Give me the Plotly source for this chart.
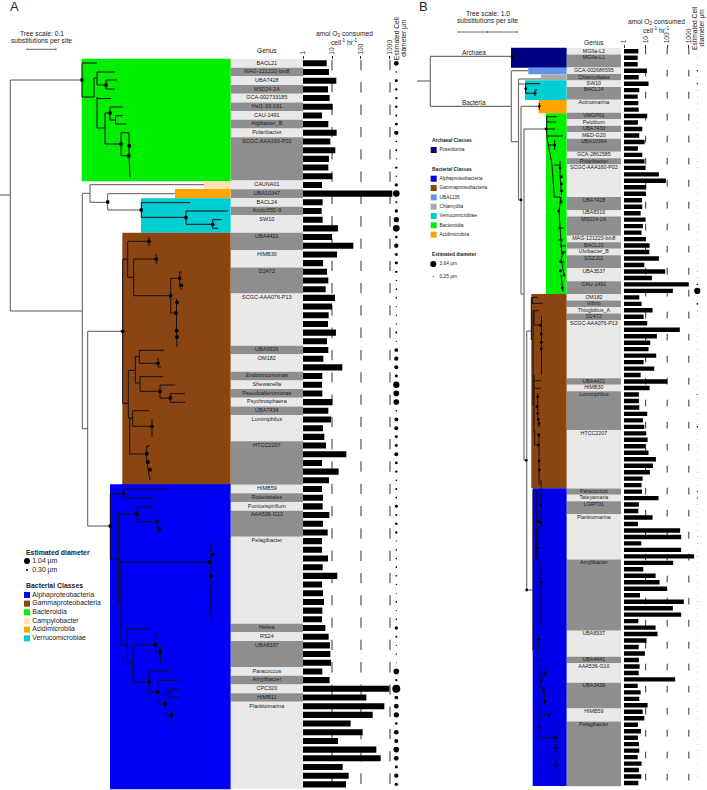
import plotly.graph_objects as go

W, H = 707, 790
FONT = "Liberation Sans"
INK = "#222222"

# ---------- Panel A data ----------
a_genus = [("BACL21",1),("MAG-121220-bin8",1),("UBA7428",1),("MS024-2A",1),("GCA-002733185",1),("Hel1-33-131",1),
           ("CAU-1491",1),("Algibacter_B",1),("Polaribacter",1),("SCGC-AAA160-P02",5),("CAUNA01",1),("UBA10347",1),
           ("BACL24",1),("Arctic95D-9",1),("SW10",2),("UBA4421",2),("HIMB30",2),("D2472",3),("SCGC-AAA076-P13",6),
           ("UBA9926",1),("OM182",2),("Endozoicomonas",1),("Shewanella",1),("Pseudoalteromonas",1),("Psychrosphaera",1),
           ("UBA7434",1),("Luminiphilus",3),("HTCC2207",5),("HIMB59",1),("Rickettsiales",1),("Puniceispirillum",1),
           ("AAA536-G10",3),("Pelagibacter",10),("Heliea",1),("RS24",1),("UBA8337",3),("Paracoccus",1),("Amylibacter",1),
           ("CPC320",1),("HIMB11",1),("Planktomarina",10)]
a_rate = [6.55,7.88,14.1,7.28,8.31,10.5,4.52,7.48,14.5,8.76,13.0,7.88,7.48,10.3,4.52,1203,4.77,4.40,4.77,16.1,10.0,54.4,14.9,
          4.89,6.72,7.48,6.05,12.7,10.0,7.67,7.28,13.7,6.72,7.48,5.03,22.7,4.64,4.52,4.64,10.3,7.48,9.24,4.89,5.44,6.21,31.2,
          4.52,17.0,7.88,4.52,4.89,4.77,8.09,
          4.89,7.09,4.52,4.52,7.28,4.77,15.3,4.52,4.89,5.30,4.64,4.52,5.89,7.67,8.53,8.76,9.24,4.64,8.31,948,153,638,253,44,
          114,16.1,338,477,23.3,37.6,30.4]
a_diam = [.88,.31,.56,.44,.44,.44,.38,.56,.81,.31,.38,.25,.44,.25,.63,1.25,.38,.63,1.0,1.25,.5,.81,.56,
          .56,.44,.25,.31,.31,.25,.25,.25,.38,.25,.69,.81,.75,.56,1.19,1.06,1.06,.31,.75,.75,.56,.56,.75,.5,.44,.31,.38,.31,.56,.38,
          .5,.44,.25,.31,.31,.31,.31,.25,.19,.31,.25,.31,.63,.38,.25,.25,.19,1.06,.44,1.5,.69,.88,1.0,.5,.88,.75,1.06,.88,.56,.81,.63]

# ---------- Panel B data ----------
b_genus = [("MGIIa-L2",1),("MGIIa-L1",2),("GCA-002686595",1),("Chlamydiales",1),("SW10",1),("BACL24",2),("Actinomarina",2),
           ("VMGP01",1),("Pelobium",1),("UBA7430",1),("MED-G20",1),("UBA10364",2),("GCA-2862585",1),("Polaribacter",1),
           ("SCGC-AAA160-P02",5),("UBA7428",2),("UBA8316",1),("MS024-2A",3),("MAG-121220-bin8",1),("BACL21",1),
           ("Ulvibacter_B",1),("SGZJ01",2),("UBA3537",2),("CAU-1491",2),("OM182",1),("Vibrio",1),("Thioglobus_A",1),
           ("D2472",1),("SCGC-AAA076-P13",9),("UBA4421",1),("HIMB30",1),("Luminiphilus",6),("HTCC2207",9),("Paracoccus",1),
           ("Tateyamaria",1),("LGRT01",2),("Planktomarina",7),("Amylibacter",11),("UBA8337",4),("UBA4441",1),("AAA536-G10",3),
           ("UBA3439",4),("HIMB59",2),("Pelagibacter",10)]
b_rate = [4.6,4.3,4.3,11.5,4.8,13.7,5.1,4.3,4.6,4.8,11.9,4.4,7.0,5.1,9.0,4.4,7.0,9.0,10,41.2,86.8,10.7,10.4,6.8,7.0,5.9,10,7.5,6.5,
          10.4,15.3,14.8,41.2,
          8.7,80.9,19.6,1000,183,5.1,6.5,21,8.1,11.9,384,33.3,16.4,13.7,31,8.1,25.1,5.9,100,15.3,4.9,4.9,5.1,11.9,7.5,8.7,10.7,
          12.4,9.7,13.7,30,21.8,15.8,7.3,6.5,6.8,39.8,4.9,4.6,21,
          4.4,398,443,6.3,443,1762,189,7.8,29,44.3,100,5.5,588,183,443,4.6,29,35.8,11.1,4.8,9.3,4.9,5.3,4.8,234,4.3,5.9,5.1,12.4,
          7.3,8.7,4.4,6.1,4.4,4.9,5.1,4.3,6.5,4.9,6.3,4.6]
b_diam = [.3,.3,.3,.9,.3,.8,.4,.3,.3,.3,.3,.3,.3,.3,.3,.3,.3,.3,.4,.3,.3,.3,.3,.3,.3,.3,.3,.3,.3,.3,.3,.3,.3,
          .3,.4,.4,.8,3.64,.3,1.0,.4,.3,.3,.4,.3,.3,.4,.3,.3,.3,.3,.3,.3,.7,.3,.3,.4,.3,.9,.3,.3,.3,.3,.4,.3,.4,.3,.3,.7,.8,.4,.3,.3,
          .4,.4,.4,.4,.3,.5,.3,.3,.3,.3,.3,.3,.4,.3,.3,.3,.3,.3,.3,.3,.3,.3,.3,.3,.3,.3,.3,.3,.3,.3,.3,.3,.3,.3,.3,.3,.3,.3,.3,.3]

# ---------- Clades: colour, left, top, bottom on the tree canvas ----------
a_clades = [("#00ee00",81.7,58.7,181.3),("#fde2b4",204,181.3,189),("#ffa500",175,189,198.3),("#00ced1",141,198.3,232.7),
            ("#8b4513",122.3,232.7,485),("#0000f5",110,484.3,789.3)]
b_clades = [("#000080",511,47.7,67.7),("#6495ed",528.3,67.7,74.3),("#a9a9a9",541,74.3,80.3),("#00ced1",525,80.3,100),
            ("#ffa500",538.7,100,113.3),("#00ee00",546,113.3,294),("#8b4513",531.3,294,488.3),("#0000e8",532.7,488.3,786)]

# ---------- Trees: branches as (x0, y0, x1, y1), nodes as (x, y) ----------
a_outer = [(0,195,10.3,195),(10.3,80,10.3,311),(10.3,80,82,80),(10.3,311,82.3,311),(82.3,193.3,82.3,428.7),
           (82.3,193.3,90,193.3),(90,184.7,90,202.3),(90,184.7,204,184.7),(90,202.3,107.7,202.3),(107.7,193.7,107.7,210),
           (107.7,193.7,175,193.7),(107.7,210,141.3,210),(82.3,428.7,87.7,428.7),(87.7,331.3,87.7,526),
           (87.7,331.3,122.7,331.3),(87.7,526,110.3,526)]
a_inner = [(82,63,82,97),(82,63,97,63),(82,97,94,97),(94,78,94,97),(94,78,97,78),(97,72,97,85),(97,72,115,72),(97,85,106,85),
           (106,80,106,89),(106,80,117,80),(106,89,115,89),(97,97,97,128),(97,98.5,111,98.5),(97,128,105,128),(105,113,105,144),
           (105,113,110,113),(110,107,110,120),(110,107,122.7,107),(110,120,115.7,120),(115.7,115.7,115.7,124),
           (115.7,115.7,123,115.7),(115.7,124,126.7,124),(105,144,121,144),(121,132.7,121,155.7),(121,132.7,129,132.7),
           (121,155.7,128.7,155.7),(129,133,129,156),(129,156,130,177),
           (141.3,202.7,141.3,217.3),(141.3,202.7,190,202.7),(141.3,217.3,186,217.3),(186,211,186,224.3),(186,211,228,211),
           (186,224.3,212.7,224.3),(212.7,219.7,212.7,228.3),(212.7,219.7,221.7,219.7),(212.7,228.3,218,228.3),
           (122.7,259.3,122.7,403.3),(122.7,259.3,127.7,259.3),(127.7,241.3,127.7,277.3),(127.7,241.3,149,241.3),(149,237,149,246),
           (127.7,277.3,133.7,277.3),(133.7,259,133.7,295.7),(133.7,259,156.3,259),(156.3,254,156.3,264),(133.7,295.7,170.7,295.7),
           (170.7,278.3,170.7,313),(170.7,278.3,179.7,278.3),(179.7,272,179.7,285),(179.7,272,182,272),(179.7,285,181.5,290),
           (170.7,313,176,313),(176.5,299,176.5,330),(176.5,330,177,347),
           (122.7,403.3,128.3,403.3),(128.3,370.3,128.3,418),(128.3,370.3,135.3,370.3),(135.3,356.7,135.3,383),(135.3,356.7,139.3,356.7),
           (139.3,350.3,139.3,363.3),(139.3,350.3,163.7,350.3),(139.3,363.3,158,363.3),(158,358,158,367),(158,367,161,367),
           (135.3,383,140,383),(140,376.7,140,391.3),(140,376.7,163,376.7),(140,391.3,160,391.3),(160,385,160,398),(160,385,175.3,385),
           (160,398,170.3,398),(170.3,393.7,170.3,402.3),(170.3,393.7,185,393.7),(170.3,402.3,185,402.3),
           (128.3,418,132.7,418),(132.7,410.7,132.7,426.3),(132.7,410.7,149,410.7),(132.7,426.3,152,426.3),(152,419,152,437),
           (129.7,418,129.7,454),(129.7,454,146.7,454),(146.7,446,146.7,462),(146.7,446,150,446),(146.7,462,150,480),
           (110.3,493.7,110.3,559),(110.3,493.7,123.7,493.7),(123.7,489,123.7,498),(123.7,489,167,489),(123.7,498,155.7,498),
           (110.3,559,118.7,559),(118.7,514,118.7,603),(118.7,514,137,514),(137,506.7,137,521.7),(137,506.7,153.7,506.7),
           (137,521.7,157.3,521.7),(157.5,515,157.5,525),(157.5,525,159,532),(118.7,562,209.7,562),(211,541,211,620),
           (118.7,603,121,603),(121,562,121,645),(121,645,127.3,645),(127.3,629,127.3,663),(127.3,629,152,629),(127.3,663,133,663),
           (133,644.7,133,682),(133,644.7,155.3,644.7),(155.3,636,155.3,652),(155.3,636,159,636),(155.3,652,160.3,652),(160.3,646,160.3,663),
           (133,682,149,682),(149,671,149,692),(149,671,170,671),(149,692,157.7,692),(157.7,680.3,157.7,704),(157.7,680.3,180,680.3),
           (157.7,704,165.3,704),(165.3,693,165.3,715),(165.3,693,170,693),(170,689,170,697.3),(170,689,180,689),(170,697.3,180,697.3),
           (165.3,715,171.7,715),(171.7,707,171.7,723),(171.7,723,173.5,723),(173.5,722,173.5,783)]
a_nodes = [(82,80),(106,85),(110,113),(121,144),(129.3,146),(128.7,155.7),(107.7,202),(141.3,210),(186,217.7),(212.7,224.3),
           (122.7,331.3),(149,241.3),(156.3,259),(170.7,295.7),(179.7,278.3),(181.3,285.3),(176,313),(177,302.3),(176.7,330.7),(177,337),
           (158,363.3),(160,391.3),(170.3,398),(152,426.3),(146.7,453.7),(148,462),(150,469.7),
           (110.3,526),(123.7,493.7),(137,514),(157.3,521.7),(159,528.7),(209.7,562),(212.7,554.3),(211,576),(155.3,644.7),(160.3,652),
           (149,682),(157.7,692),(165.3,704),(171.7,715)]

b_outer = [(417,81,430.3,81),(430.3,56.3,430.3,106.3),(430.3,56.3,511,56.3),(430.3,106.3,511.3,106.3),(511.3,70.7,511.3,141.7),
           (511.3,70.7,528.3,70.7),(511.3,141.7,518.5,141.7),(518.5,79,518.5,200),(518.5,79,541,79),(518.5,84,525.7,84),(518.5,200,521,200),
           (521,106.3,521,294),(521,106.3,539.3,106.3),(521,294,524,294),(524,129,524,460.3),(524,129,546,129),(524,460.3,526.7,460.3),
           (526.7,331,526.7,590),(526.7,331,531.3,331),(526.7,590,533,590)]
b_inner = [(525.7,83.7,525.7,93.3),(525.7,83.7,540,83.7),(525.7,93.3,535,93.3),(535,90,535,96),(535,90,537,90),(539.3,103,539.3,110),
           (512,52,512,62),
           (546.7,116.7,546.7,136),(546.7,116.7,556.7,116.7),(546.7,122,556,122),(546.7,129,555,129),(546.7,136,563,136),(546.7,136,552,165),
           (549,145,554.7,145),(554.7,140,554.7,150),(552,165,554.3,197),(554.3,165,560,165),(560,161,560,175),(560,175,561.5,195),(554.3,197,560,197),
           (560,197,561,203),(561,197,559,211),(559,211,562,258),(558,228,564,228),(558,240,563,240),(560,246,566,246),(561,252,566,252),
           (561,258,564,275),(561,262,564,262),(561,275,563,292),
           (531.3,297.3,531.3,340),(532.3,297.3,538,297.3),(532.3,303.3,543,303.3),(532.3,297.3,532.3,303.3),(534,310.7,539,310.7),
           (533,310,533,406),(534,325,540.7,325),(534,310,534,325),(541.5,316,541.5,375),(535,380.7,540.7,380.7),(535,388.3,540.7,388.3),
           (534,375,534,433),(537.7,393,537.7,415),(537.7,415,539,427),(534.7,430,534.7,445),(534.7,445,538.3,445),(539,433,539,485),
           (533,490,533,650),(536.7,490,536.7,560),(541,480,541,530),(537.7,530,537.7,565),(541,561,541,626.7),(538.7,635,538.7,653),
           (536.7,660,541.7,660),(545,668,545,678),(541,670,541,690),(543.3,685,545,705),(539.3,715,549.3,715),(549.3,712,549.3,718),
           (539.3,706,539.3,738),(539.3,737.7,555.7,737.7),(555.7,725,555.7,783)]
b_nodes = [(512,57),(525.7,88.7),(535,93.3),(521,200),(539.3,106.3),(546,129),(554.7,145),(526.3,460.3),(526.7,590),
           (560,168),(561.3,176.7),(561.3,184),(561.7,191),(561,202),(558.7,211),(563,253),(560.7,261.7),(560.3,271),(564,275),(562.3,288),
           (540.7,325.3),(541.3,334),(541.3,342.3),(541.3,349),(537.7,396.7),(537,406.7),(537.7,413.3),(538.3,419.3),(539,423.3),
           (538.3,445),(538.7,435),(539,461),(539.3,470),
           (540.7,505),(538.3,521.7),(541,523),(537.7,548.3),(541,582.3),(538.7,639.3),(545,673.3),(541,681.3),(543.3,690),(545,701.7),
           (549.3,715),(539.3,726.7),(555.7,737.7),(556,748.3),(555.7,765)]

# ---------- Legends ----------
a_legend_classes = [("Alphaproteobacteria","#0000f5"),("Gammaproteobacteria","#8b4513"),("Bacteroidia","#00ee00"),
                    ("Campylobacter","#fde2b4"),("Acidimicrobiia","#ffa500"),("Verrucomicrobiae","#00ced1")]
b_legend_archaea = [("Poseidoniia","#000080")]
b_legend_classes = [("Alphaproteobacteria","#0000e8"),("Gammaproteobacteria","#8b4513"),("UBA1135","#6495ed"),
                    ("Chlamydiia","#a9a9a9"),("Verrucomicrobiae","#00ced1"),("Bacteroidia","#00ee00"),("Acidimicrobiia","#ffa500")]
ref_lines = [10, 100, 1000]
tick_vals = [1, 10, 100, 1000]
tick_text = ["1", "10", "100", "1000"]

fig = go.Figure()

def segs(branches):
    xs, ys = [], []
    for x0, y0, x1, y1 in branches:
        xs += [x0, x1, None]
        ys += [y0, y1, None]
    return xs, ys

def add_tree(outer, inner, nodes, outer_col, outer_w, nsize):
    xs, ys = segs(outer)
    fig.add_trace(go.Scatter(x=xs, y=ys, mode="lines", line=dict(color=outer_col, width=outer_w), hoverinfo="skip"))
    xs, ys = segs(inner)
    fig.add_trace(go.Scatter(x=xs, y=ys, mode="lines", line=dict(color="#101010", width=1), hoverinfo="skip"))
    fig.add_trace(go.Scatter(x=[n[0] for n in nodes], y=[n[1] for n in nodes], mode="markers",
                             marker=dict(color="#000000", size=nsize, opacity=1), hoverinfo="skip"))

add_tree(a_outer, a_inner, a_nodes, "#555555", 1, 3.8)
add_tree(b_outer, b_inner, b_nodes, "#707070", 1.2, 2.8)

shapes = []
for clades in (a_clades, b_clades):
    for col, left, top, bot in clades:
        shapes.append(dict(type="rect", xref="x", yref="y", x0=left, x1=(230.7 if clades is a_clades else 566.7),
                           y0=top, y1=bot, fillcolor=col, line=dict(width=0), layer="below"))

def add_panel(genus, rate, diam, xdash, xbar, xgen, xdot, yax, bar_w, gen_font, dot_k, y0, y1, dash):
    for v in ref_lines:
        fig.add_trace(go.Scatter(x=[v, v], y=[y0, y1], mode="lines", xaxis=xdash, yaxis=yax,
                                 line=dict(color="#555555", width=1.2, dash=dash), hoverinfo="skip"))
    rows = list(range(len(rate)))
    fig.add_trace(go.Bar(x=rate, y=rows, orientation="h", xaxis=xbar, yaxis=yax, width=bar_w,
                         marker=dict(color="#000000", line=dict(width=0)), hoverinfo="skip"))
    gy, gw, gc, lx, ly, lt = [], [], [], [], [], []
    r = 0
    for k, (name, n) in enumerate(genus):
        gy.append(r + (n - 1) / 2)
        gw.append(n)
        gc.append("#e9e9e9" if k % 2 == 0 else "#8e8e8e")
        lx.append(0.5); ly.append(r); lt.append(name)
        r += n
    fig.add_trace(go.Bar(x=[1] * len(gy), y=gy, orientation="h", xaxis=xgen, yaxis=yax, width=gw,
                         marker=dict(color=gc, line=dict(width=0)), hoverinfo="skip"))
    fig.add_trace(go.Scatter(x=lx, y=ly, text=lt, mode="text", xaxis=xgen, yaxis=yax, textposition="middle center",
                             textfont=dict(family=FONT, size=gen_font, color=INK), hoverinfo="skip"))
    fig.add_trace(go.Scatter(x=[0.5] * len(diam), y=rows, mode="markers", xaxis=xdot, yaxis=yax,
                             marker=dict(color="#000000", size=[d * dot_k for d in diam], opacity=1, line=dict(width=0)),
                             hoverinfo="skip"))

add_panel(a_genus, a_rate, a_diam, "x2", "x3", "x4", "x5", "y2", 0.70, 5.5, 5.33, -0.38, 83.5, "10.3px,12px")
add_panel(b_genus, b_rate, b_diam, "x6", "x7", "x8", "x9", "y3", 0.68, 5.3, 1.7, -0.56, 113.6, "6.7px,15.3px")

def legend_items(items, x, ytop, pitch, size, font, txt_x):
    ys = [ytop + i * pitch for i in range(len(items))]
    fig.add_trace(go.Scatter(x=[x] * len(items), y=ys, mode="markers", hoverinfo="skip",
                             marker=dict(symbol="square", size=size, opacity=1, color=[c for _, c in items], line=dict(width=0))))
    fig.add_trace(go.Scatter(x=[txt_x] * len(items), y=ys, mode="text", text=[n for n, _ in items], hoverinfo="skip",
                             textposition="middle right", textfont=dict(family=FONT, size=font, color=INK)))

legend_items(a_legend_classes, 27, 595, 8.66, 6, 6.9, 32.3)
legend_items(b_legend_archaea, 433.7, 150, 9.3, 6, 4.8, 439.5)
legend_items(b_legend_classes, 433.7, 178.7, 9.33, 6, 4.8, 439.5)

def dot_legend(x, ys, sizes, labels, font, txt_x):
    fig.add_trace(go.Scatter(x=[x] * len(ys), y=ys, mode="markers", hoverinfo="skip",
                             marker=dict(size=sizes, opacity=1, color="#000000", line=dict(width=0))))
    fig.add_trace(go.Scatter(x=[txt_x] * len(ys), y=ys, mode="text", text=labels, hoverinfo="skip",
                             textposition="middle right", textfont=dict(family=FONT, size=font, color=INK)))

dot_legend(27, [561, 570], [6, 2], ["1.04 µm", "0.30 µm"], 6.9, 32.3)
dot_legend(433.3, [264, 276.5], [6.2, 1], ["3.64 µm", "0.25 µm"], 4.8, 439.5)

# scale bars
sx, sy = segs([(27, 49.3, 56, 49.3), (27, 48.5, 27, 50.1), (56, 48.5, 56, 50.1),
               (458.3, 32, 517, 32), (458.3, 31, 458.3, 33), (487.7, 31, 487.7, 33), (517, 31, 517, 33)])
fig.add_trace(go.Scatter(x=sx, y=sy, mode="lines", line=dict(color="#444444", width=0.8), hoverinfo="skip"))

def note(x, y, text, size=6.7, angle=0, bold=False):
    if bold:
        text = "<b>" + text + "</b>"
    return dict(x=x, y=y, xref="x", yref="y", text=text, showarrow=False, textangle=angle,
                font=dict(family=FONT, size=size, color=INK), xanchor="center", yanchor="middle", align="center")

def lnote(x, y, text, size):
    d = note(x, y, "<b>" + text + "</b>", size)
    d["xanchor"] = "left"
    return d

annotations = [
    note(14.5, 6, "A", 13), note(423.5, 6, "B", 13),
    note(41.5, 33, "Tree scale: 0.1"), note(41.5, 41, "substitutions per site"),
    note(487.7, 13, "Tree scale: 1.0"), note(487.7, 21, "substitutions per site"),
    note(267, 50, "Genus"), note(594.3, 42.7, "Genus"),
    note(344.3, 33.7, "amol O<sub>2</sub> consumed"), note(344.3, 41.7, "cell<sup>-1</sup> hr<sup>-1</sup>"),
    note(656, 22, "amol O<sub>2</sub> consumed"), note(656, 30, "cell<sup>-1</sup> hr<sup>-1</sup>"),
    note(396.3, 38, "Estimated Cell", angle=-90), note(403.8, 38, "diameter µm", angle=-90),
    note(694, 28, "Estimated Cell", angle=-90), note(701.5, 28, "diameter µm", angle=-90),
    note(473.5, 52, "Archaea", 6.4), note(473.5, 102.7, "Bacteria", 6.4),
    lnote(24, 552, "Estimated diameter", 6.9), lnote(24, 585.7, "Bacterial Classes", 6.9),
    lnote(430.3, 140.3, "Archaeal Classes", 4.8), lnote(430.3, 169.7, "Bacterial Classes", 4.8),
    lnote(430.3, 254.7, "Estimated diameter", 4.8),
]

hidden = dict(visible=False, showgrid=False, zeroline=False, automargin=False)

def dash_axis(left, right, rng, pos):
    return dict(type="log", domain=[left / W, right / W], range=rng, anchor="free", position=pos, side="top", automargin=False,
                showgrid=False, zeroline=False, showline=False, tickmode="array", tickvals=tick_vals, ticktext=tick_text,
                tickangle=-90, ticks="outside", ticklen=3, tickcolor="#333333", tickwidth=1,
                tickfont=dict(family=FONT, size=6.7, color="#333333"))

def bar_axis(left, right, rng):
    return dict(type="log", domain=[left / W, right / W], range=rng, **hidden)

fig.update_layout(
    template="none",
    width=W, height=H, autosize=False, margin=dict(l=0, r=0, t=0, b=0, pad=0),
    paper_bgcolor="white", plot_bgcolor="rgba(0,0,0,0)", showlegend=False, shapes=shapes, annotations=annotations,
    xaxis=dict(domain=[0, 1], range=[0, W], **hidden),
    yaxis=dict(domain=[0, 1], range=[H, 0], **hidden),
    xaxis2=dash_axis(303, 410, [0, 3.69], 1 - 59 / H),
    xaxis3=bar_axis(303, 410, [0, 3.69]),
    xaxis4=dict(domain=[230.7 / W, 303 / W], range=[0, 1], **hidden),
    xaxis5=dict(domain=[390 / W, 402.6 / W], range=[0, 1], **hidden),
    yaxis2=dict(domain=[0, 1], range=[83.65, -7.287], anchor="x2", **hidden),
    xaxis6=dash_axis(624, 707, [0, 3.843], 1 - 47.7 / H),
    xaxis7=bar_axis(624, 707, [0, 3.843]),
    xaxis8=dict(domain=[566.7 / W, 621 / W], range=[0, 1], **hidden),
    xaxis9=dict(domain=[691 / W, 703.6 / W], range=[0, 1], **hidden),
    yaxis3=dict(domain=[0, 1], range=[114.08, -7.923], anchor="x6", **hidden),
)

fig.write_html("out.html", post_script="document.body.style.margin='0';", config=dict(displayModeBar=False))
